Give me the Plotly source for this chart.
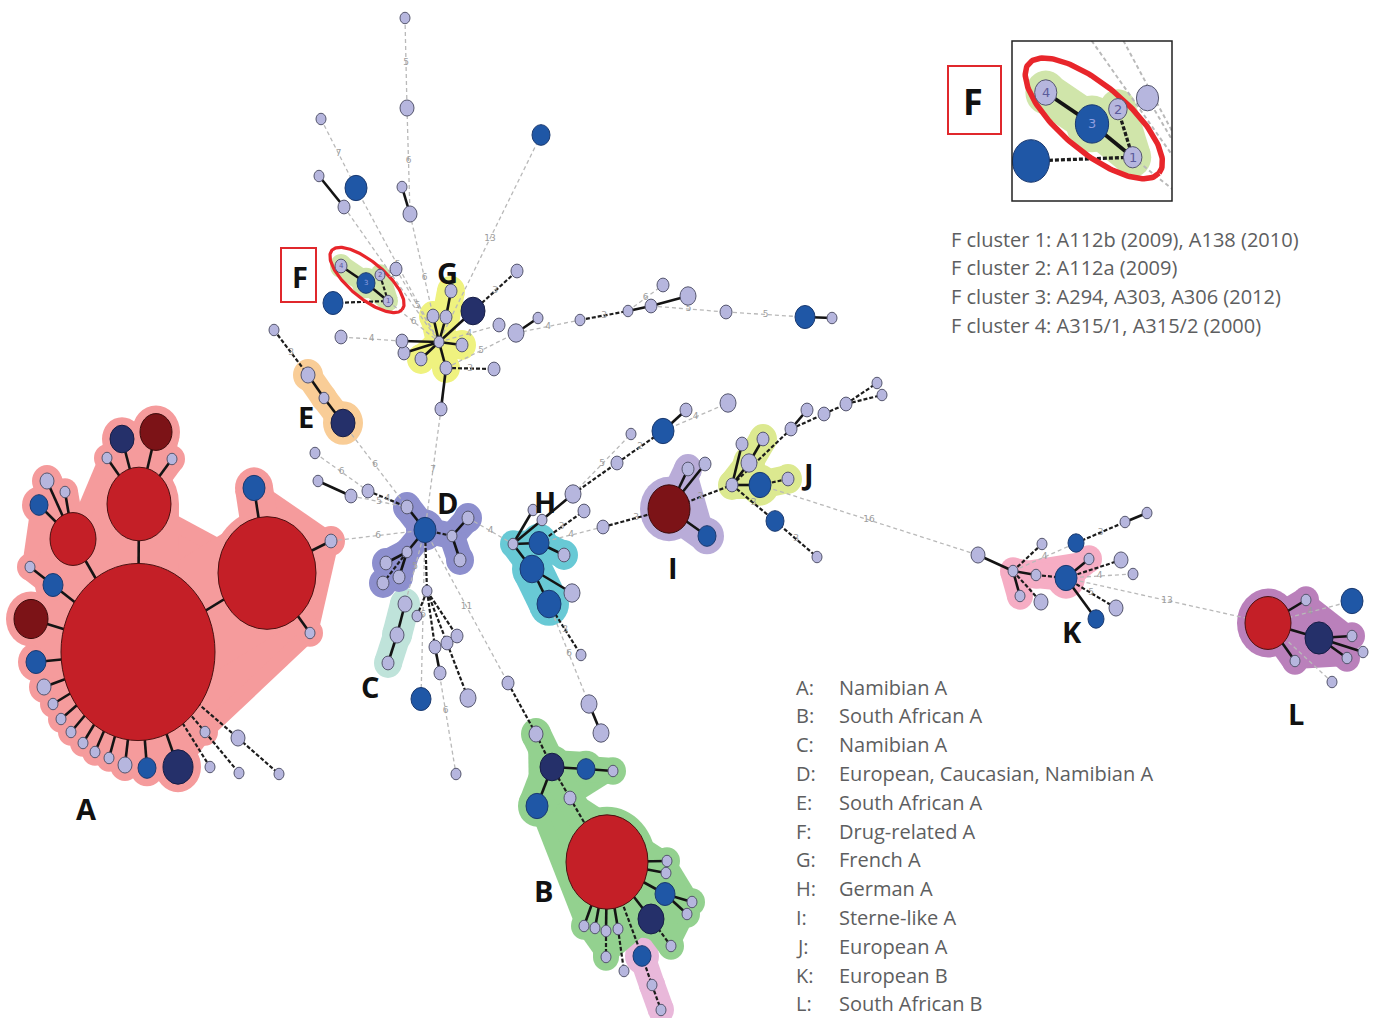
import math
import plotly.graph_objects as go

W, H = 1377, 1018
Y_STRETCH = 1.15     # nodes are drawn as slightly tall ellipses
PAD = 8              # default halo padding around cluster members
ZOOM = 1.85          # magnification of the F inset

# ---------------- nodes: (id, x, y, radius, kind) ----------------
nodes_A = [
    ("A0", 138, 652, 77, "R"), ("A1", 267, 573, 49, "R"), ("A2", 139, 504, 32, "R"),
    ("A3", 73, 539, 23, "R"), ("A4", 156, 432, 16, "DR"), ("A5", 122, 439, 12, "N"),
    ("A6", 107, 458, 5, "L"), ("A7", 172, 459, 5, "L"), ("A8", 254, 488, 11, "B"),
    ("A9", 331, 541, 6, "L"), ("A10", 310, 633, 5, "L"), ("A11", 47, 481, 7, "L"),
    ("A12", 65, 492, 5, "L"), ("A13", 39, 505, 9, "B"), ("A14", 30, 567, 5, "L"),
    ("A15", 53, 585, 10, "B"), ("A16", 31, 619, 17, "DR"), ("A17", 36, 662, 10, "B"),
    ("A18", 44, 687, 7, "L"), ("A19", 53, 704, 5, "L"), ("A20", 61, 719, 5, "L"),
    ("A21", 71, 732, 5, "L"), ("A22", 83, 743, 5, "L"), ("A23", 95, 752, 5, "L"),
    ("A24", 109, 758, 5, "L"), ("A25", 125, 765, 7, "L"), ("A26", 147, 768, 9, "B"),
    ("A27", 178, 767, 15, "N"), ("A28", 205, 732, 5, "L"),
    ("A29", 210, 767, 5, "L"), ("A30", 238, 738, 7, "L"), ("A31", 239, 773, 5, "L"),
    ("A32", 279, 774, 5, "L"),
]
nodes_B = [
    ("B0", 607, 862, 41, "R"), ("Bt", 536, 734, 7, "L"), ("B1", 552, 767, 12, "N"),
    ("B2", 586, 769, 9, "B"), ("B3", 613, 771, 5, "L"), ("B4", 537, 806, 11, "B"),
    ("B5", 570, 798, 6, "L"), ("B6", 667, 861, 5, "L"), ("B7", 666, 873, 5, "L"),
    ("B8", 665, 894, 10, "B"), ("B9", 692, 902, 5, "L"), ("B10", 687, 914, 5, "L"),
    ("B11", 651, 919, 13, "N"), ("B12", 671, 946, 5, "L"), ("B13", 584, 926, 5, "L"),
    ("B14", 595, 928, 5, "L"), ("B15", 606, 931, 5, "L"), ("B16", 618, 929, 5, "L"),
    ("B17", 606, 957, 5, "L"), ("B18", 624, 971, 5, "L"), ("X1", 508, 683, 6, "L"),
    ("P0", 642, 956, 9, "B"), ("P1", 652, 985, 5, "L"), ("P2", 661, 1010, 5, "L"),
]
nodes_CDE = [
    ("C0", 405, 604, 7, "L"), ("C1", 397, 635, 7, "L"), ("C2", 388, 663, 6, "L"),
    ("D0", 425, 530, 11, "B"), ("D1", 407, 507, 6, "L"), ("D2", 468, 518, 6, "L"),
    ("D3", 452, 536, 5, "L"), ("D4", 460, 560, 6, "L"), ("D5", 407, 552, 5, "L"),
    ("D6", 386, 563, 6, "L"), ("D7", 399, 577, 6, "L"), ("D8", 383, 583, 6, "L"),
    ("N1", 315, 453, 5, "L"), ("N2", 318, 481, 5, "L"), ("N3", 351, 496, 6, "L"),
    ("N4", 368, 491, 6, "L"),
    ("Y0", 427, 591, 5, "L"), ("Y1", 417, 616, 5, "L"), ("Y2", 435, 647, 6, "L"),
    ("Y3", 440, 673, 6, "L"), ("Y4", 447, 643, 6, "L"), ("Y5", 468, 698, 8, "L"),
    ("Y6", 457, 636, 6, "L"), ("Y7", 421, 699, 10, "B"), ("Y8", 456, 774, 5, "L"),
    ("Ee", 274, 330, 5, "L"), ("E0", 308, 375, 7, "L"), ("E1", 324, 398, 5, "L"),
    ("E2", 343, 423, 12, "N"),
]
nodes_FG = [
    ("F1", 388, 301, 5, "L"), ("F2", 380, 275, 5, "L"), ("F3", 366, 283, 9, "B"),
    ("F4", 341, 266, 6, "L"), ("Fb", 333, 303, 10, "B"),
    ("G0", 439, 342, 5, "L"), ("G1", 433, 316, 6, "L"), ("G2", 446, 317, 6, "L"),
    ("G3", 451, 291, 6, "L"), ("G4", 462, 345, 6, "L"), ("G5", 446, 368, 6, "L"),
    ("G6", 421, 359, 6, "L"), ("G7", 404, 353, 6, "L"), ("G8", 402, 341, 6, "L"),
    ("G9", 341, 337, 6, "L"), ("G10", 494, 369, 6, "L"), ("G11", 441, 409, 6, "L"),
    ("G12", 473, 311, 12, "N"), ("G13", 517, 271, 6, "L"), ("G14", 499, 325, 6, "L"),
    ("G15", 516, 333, 8, "L"), ("G16", 538, 318, 5, "L"),
    ("R1", 580, 320, 5, "L"), ("R2", 628, 311, 5, "L"), ("R3", 651, 306, 6, "L"),
    ("R4", 688, 296, 8, "L"), ("R5", 663, 285, 6, "L"), ("R6", 726, 312, 6, "L"),
    ("R7", 805, 317, 10, "B"), ("R8", 832, 318, 5, "L"),
    ("T0", 405, 18, 5, "L"), ("T1", 407, 108, 7, "L"), ("T2", 410, 214, 7, "L"),
    ("T3", 402, 187, 5, "L"), ("T4", 321, 119, 5, "L"), ("T5", 356, 188, 11, "B"),
    ("T6", 319, 176, 5, "L"), ("T7", 344, 207, 6, "L"), ("T8", 541, 135, 9, "B"),
    ("T9", 396, 269, 6, "L"),
]
nodes_HIJ = [
    ("H0", 513, 544, 5, "L"), ("H1", 539, 543, 10, "B"), ("H2", 564, 555, 6, "L"),
    ("H3", 532, 569, 12, "B"), ("H4", 572, 593, 8, "L"), ("H5", 549, 604, 12, "B"),
    ("Z1", 581, 655, 5, "L"), ("Z2", 589, 704, 8, "L"), ("Z3", 601, 733, 8, "L"),
    ("U1", 533, 510, 5, "L"), ("U2", 542, 520, 5, "L"), ("U3", 573, 494, 8, "L"),
    ("U4", 584, 511, 6, "L"), ("U5", 617, 463, 6, "L"), ("U6", 631, 434, 5, "L"),
    ("U7", 663, 431, 11, "B"), ("U8", 686, 410, 6, "L"), ("U9", 728, 403, 8, "L"),
    ("U10", 603, 527, 6, "L"),
    ("I0", 669, 509, 21, "DR"), ("I1", 707, 536, 9, "B"), ("I2", 688, 469, 6, "L"),
    ("I3", 705, 464, 6, "L"),
    ("J0", 732, 485, 6, "L"), ("J1", 760, 485, 11, "B"), ("J2", 788, 479, 6, "L"),
    ("J3", 749, 463, 8, "L"), ("J4", 763, 439, 6, "L"), ("J5", 742, 444, 6, "L"),
    ("V1", 775, 521, 9, "B"), ("V2", 817, 557, 5, "L"),
    ("W1", 791, 429, 6, "L"), ("W2", 807, 410, 6, "L"), ("W3", 824, 414, 6, "L"),
    ("W4", 846, 404, 6, "L"), ("W5", 877, 383, 5, "L"), ("W6", 882, 395, 5, "L"),
]
nodes_KL = [
    ("Kl", 978, 555, 7, "L"), ("K0", 1013, 571, 5, "L"), ("K1", 1036, 575, 5, "L"),
    ("K2", 1066, 578, 11, "B"), ("K3", 1089, 559, 5, "L"), ("K4", 1020, 596, 5, "L"),
    ("K5", 1041, 602, 7, "L"), ("K6", 1042, 544, 5, "L"), ("K7", 1076, 543, 8, "B"),
    ("K8", 1125, 522, 5, "L"), ("K9", 1147, 513, 5, "L"), ("K10", 1121, 560, 7, "L"),
    ("K11", 1133, 574, 5, "L"), ("K12", 1116, 608, 7, "L"), ("K13", 1096, 619, 8, "B"),
    ("L0", 1268, 623, 23, "R"), ("L1", 1319, 638, 14, "N"), ("L2", 1306, 600, 5, "L"),
    ("L3", 1352, 636, 5, "L"), ("L4", 1363, 652, 5, "L"), ("L5", 1347, 658, 5, "L"),
    ("L6", 1295, 661, 5, "L"), ("L7", 1332, 682, 5, "L"), ("L8", 1352, 601, 11, "B"),
]

# ---------------- edges: (from, to, style, distance label) ----------------
edges_A = [
    ("A0", "A1", "s", ""), ("A0", "A2", "s", ""), ("A0", "A3", "s", ""),
    ("A2", "A4", "s", ""), ("A2", "A5", "s", ""), ("A2", "A6", "s", ""), ("A2", "A7", "s", ""),
    ("A1", "A8", "s", ""), ("A1", "A9", "s", ""), ("A1", "A10", "s", ""),
    ("A3", "A11", "s", ""), ("A3", "A12", "s", ""), ("A3", "A13", "s", ""),
    ("A0", "A15", "s", ""), ("A15", "A14", "s", ""), ("A0", "A16", "s", ""),
    ("A0", "A17", "s", ""), ("A0", "A18", "s", ""), ("A0", "A19", "s", ""),
    ("A0", "A20", "s", ""), ("A0", "A21", "s", ""), ("A0", "A22", "s", ""),
    ("A0", "A23", "s", ""), ("A0", "A24", "s", ""), ("A0", "A25", "s", ""),
    ("A0", "A26", "s", ""), ("A0", "A27", "s", ""), ("A0", "A28", "d", ""),
    ("A0", "A29", "d", ""), ("A28", "A31", "d", ""), ("A0", "A30", "d", ""),
    ("A30", "A32", "d", ""), ("A9", "D0", "g", "6"),
]
edges_B = [
    ("Bt", "B1", "d", ""), ("B1", "B2", "s", ""), ("B2", "B3", "s", ""), ("B1", "B4", "s", ""),
    ("B1", "B5", "d", ""), ("B5", "B0", "d", ""), ("B0", "B6", "s", ""), ("B0", "B7", "s", ""),
    ("B0", "B8", "s", ""), ("B8", "B9", "s", ""), ("B8", "B10", "s", ""), ("B0", "B11", "s", ""),
    ("B11", "B12", "d", ""), ("B0", "B13", "s", ""), ("B0", "B14", "s", ""), ("B0", "B15", "s", ""),
    ("B0", "B16", "s", ""), ("B15", "B17", "d", ""), ("B16", "B18", "d", ""),
    ("B0", "P0", "d", ""), ("P0", "P1", "d", ""), ("P1", "P2", "d", ""),
    ("X1", "Bt", "d", ""), ("D0", "X1", "g", "11"),
]
edges_CDE = [
    ("C0", "C1", "s", ""), ("C1", "C2", "s", ""), ("D0", "C0", "g", "5"),
    ("D0", "D1", "s", ""), ("D0", "D3", "d", ""), ("D3", "D2", "s", ""), ("D3", "D4", "s", ""),
    ("D0", "D5", "s", ""), ("D5", "D6", "s", ""), ("D5", "D7", "s", ""), ("D5", "D8", "d", ""),
    ("N1", "N4", "g", "6"), ("N4", "D1", "d", "4"), ("N2", "N3", "s", ""), ("N3", "D1", "g", "5"),
    ("D0", "Y0", "d", ""), ("Y0", "Y1", "d", ""), ("Y0", "Y2", "d", ""), ("Y2", "Y3", "s", ""),
    ("Y0", "Y4", "d", ""), ("Y4", "Y5", "d", ""), ("Y0", "Y6", "d", ""),
    ("D0", "Y7", "g", "6"), ("Y2", "Y8", "g", "6"),
    ("Ee", "E0", "d", "3"), ("E0", "E1", "s", ""), ("E1", "E2", "s", ""), ("E2", "D1", "g", "6"),
    ("G11", "D0", "g", "7"), ("D2", "H0", "g", "4"),
]
edges_FG = [
    ("F4", "F3", "s", ""), ("F3", "F1", "s", ""), ("F2", "F1", "d", ""), ("Fb", "F1", "d", ""),
    ("F1", "G0", "g", "6"),
    ("G0", "G1", "s", ""), ("G0", "G2", "s", ""), ("G2", "G3", "s", ""), ("G0", "G4", "s", ""),
    ("G0", "G5", "s", ""), ("G0", "G6", "s", ""), ("G0", "G7", "s", ""), ("G0", "G8", "s", ""),
    ("G8", "G9", "g", "4"), ("G5", "G10", "d", "3"), ("G5", "G11", "s", ""),
    ("G0", "G12", "s", ""), ("G12", "G13", "d", "3"), ("G0", "G14", "g", "4"),
    ("G5", "G15", "g", "5"), ("G15", "G16", "s", ""),
    ("G15", "R1", "g", "4"), ("R1", "R2", "d", "3"), ("R2", "R3", "s", ""), ("R3", "R4", "s", ""),
    ("R2", "R5", "g", "6"), ("R3", "R6", "g", "5"), ("R6", "R7", "g", "5"), ("R7", "R8", "s", ""),
    ("T0", "T1", "g", "5"), ("T1", "T2", "g", "6"), ("T3", "T2", "s", ""), ("T2", "G0", "g", "6"),
    ("T4", "T5", "g", "7"), ("T5", "G0", "g", "5"), ("T6", "T7", "s", ""), ("T7", "G0", "g", "5"),
    ("T8", "G0", "g", "13"), ("T9", "G0", "g", "5"),
]
edges_HIJ = [
    ("H0", "H1", "s", ""), ("H1", "H2", "s", ""), ("H0", "H3", "s", ""), ("H3", "H5", "s", ""),
    ("H3", "H4", "s", ""), ("H5", "Z1", "d", "3"), ("H5", "Z2", "g", "6"), ("Z2", "Z3", "s", ""),
    ("H0", "U1", "s", ""), ("H0", "U2", "s", ""), ("U2", "U3", "s", ""), ("U3", "U5", "d", ""),
    ("U3", "U6", "g", "5"), ("U5", "U7", "d", "2"), ("U7", "U8", "s", ""), ("U7", "U9", "g", "4"),
    ("H1", "U4", "d", "3"), ("H1", "U10", "g", "4"), ("U10", "I0", "d", "3"),
    ("I0", "I1", "s", ""), ("I0", "I2", "s", ""), ("I0", "I3", "s", ""), ("I0", "J0", "d", "2"),
    ("J0", "J1", "s", ""), ("J1", "J2", "d", ""), ("J0", "J3", "s", ""), ("J3", "J4", "s", ""),
    ("J0", "J5", "s", ""), ("J0", "V1", "d", "3"), ("V1", "V2", "d", "3"),
    ("J0", "W1", "d", ""), ("W1", "W2", "s", ""), ("W1", "W3", "d", ""), ("W3", "W4", "d", ""),
    ("W4", "W5", "d", ""), ("W4", "W6", "d", ""), ("J1", "Kl", "g", "16"),
]
edges_KL = [
    ("Kl", "K0", "s", ""), ("K0", "K1", "s", ""), ("K1", "K2", "d", ""), ("K2", "K3", "s", ""),
    ("K0", "K4", "s", ""), ("K0", "K5", "d", ""), ("K0", "K6", "d", ""), ("K0", "K7", "g", "4"),
    ("K7", "K8", "d", "3"), ("K8", "K9", "s", ""), ("K2", "K10", "d", ""), ("K2", "K11", "g", "4"),
    ("K2", "K12", "d", "5"), ("K2", "K13", "s", ""), ("K2", "L0", "g", "13"),
    ("L0", "L1", "s", ""), ("L0", "L2", "s", ""), ("L1", "L3", "s", ""), ("L1", "L4", "s", ""),
    ("L1", "L5", "s", ""), ("L0", "L6", "s", ""), ("L0", "L7", "g", ""), ("L0", "L8", "g", "4"),
]

# ---------------- cluster halos ----------------
halo_members = {
    "A": ["A%d" % i for i in range(29)],
    "B": ["Bt"] + ["B%d" % i for i in range(18)],
    "P": ["P0", "P1", "P2"],
    "C": ["C0", "C1", "C2"],
    "D": ["D0", "D1", "D2", "D3", "D4", "D5", "D6", "D7", "D8"],
    "E": ["E0", "E1", "E2"],
    "F": ["F1", "F2", "F3", "F4"],
    "G": ["G0", "G1", "G2", "G3", "G4", "G5", "G6"],
    "H": ["H0", "H1", "H2", "H3", "H5"],
    "I": ["I0", "I1", "I2"],
    "J": ["J0", "J1", "J2", "J3", "J4"],
    "K": ["K0", "K1", "K2", "K3", "K4"],
    "L": ["L0", "L1", "L2", "L3", "L5", "L6"],
}
halo_colors = {
    "A": "#f59b9c", "B": "#93d18f", "P": "#e9b8da", "C": "#bfe3da", "D": "#8d8fce",
    "E": "#f9cd97", "F": "#d0e5aa", "G": "#eff27f", "H": "#68c9d5", "I": "#b9acd8",
    "J": "#dce990", "K": "#f6adc4", "L": "#ba80bb",
}
halo_pad = {"F": 5}
halo_outlines = {
    "A": ["A14", "A13", "A11", "A12", "A3", "A6", "A5", "A4", "A7", "A2", "A1", "A8", "A9",
          "A10", "A28", "A27", "A26", "A25", "A24", "A23", "A22", "A21", "A20", "A19",
          "A18", "A17", "A16", "A15"],
    "B": ["Bt", "B1", "B2", "B3", "B5", "B6", "B9", "B10", "B12", "B11", "B17", "B13", "B4"],
    "I": ["I2", "I1", "I0"],
    "K": ["K0", "K3", "K2"],
    "L": ["L0", "L2", "L3", "L5", "L6"],
}

cluster_labels = [("A", 86, 808), ("B", 543, 890), ("C", 370, 686), ("D", 447, 502),
                  ("E", 306, 416), ("G", 447, 272), ("H", 545, 501), ("I", 673, 567),
                  ("J", 807, 473), ("K", 1072, 631), ("L", 1296, 713)]
f_node_numbers = [("F1", "1"), ("F2", "2"), ("F3", "3"), ("F4", "4")]

legend_keys = ["A:", "B:", "C:", "D:", "E:", "F:", "G:", "H:", "I:", "J:", "K:", "L:"]
legend_names = ["Namibian A", "South African A", "Namibian A", "European, Caucasian, Namibian A",
                "South African A", "Drug-related A", "French A", "German A", "Sterne-like A",
                "European A", "European B", "South African B"]
f_cluster_lines = ["F cluster 1: A112b (2009), A138 (2010)",
                   "F cluster 2: A112a (2009)",
                   "F cluster 3: A294, A303, A306 (2012)",
                   "F cluster 4: A315/1, A315/2 (2000)"]

KIND_FILL = {"L": "#b6b6de", "B": "#1f57a6", "N": "#25306a", "R": "#c41f27", "DR": "#7c1317"}
KIND_LINE = {"L": "#55566e", "B": "#1b3a70", "N": "#161d45", "R": "#4a1010", "DR": "#3a0a0a"}
EDGE_STYLE = {
    "g": dict(color="#b9b9b9", width=1.3, dash="4px,3px"),
    "d": dict(color="#1c1c1c", width=2.2, dash="4px,2px"),
    "s": dict(color="#141414", width=2.6, dash="solid"),
}

# ---------------- assemble ----------------
node = {}
for lst in (nodes_A, nodes_B, nodes_CDE, nodes_FG, nodes_HIJ, nodes_KL):
    for nid, x, y, r, kind in lst:
        node[nid] = (x, y, r, kind)
EDGES = edges_A + edges_B + edges_CDE + edges_FG + edges_HIJ + edges_KL
member_of = {nid: c for c, ids in halo_members.items() for nid in ids}

# inset window (F region magnified)
F_CX, F_CY = 366.0, 281.4
half = 160 / ZOOM / 2
INSET_X = [F_CX - half, F_CX + half]
INSET_Y = [F_CY + half, F_CY - half]
BOX = (1012, 41, 1172, 201)

fig = go.Figure()
shapes = []
annotations = []


def ellipse_xy(cx, cy, a, b, deg, n=160):
    t = math.radians(deg)
    xs, ys = [], []
    for i in range(n + 1):
        u = 2 * math.pi * i / n
        ex, ey = a * math.cos(u), b * math.sin(u)
        xs.append(cx + ex * math.cos(t) - ey * math.sin(t))
        ys.append(cy + ex * math.sin(t) + ey * math.cos(t))
    return xs, ys


def draw_network(xa, ya, s, window=None):
    def visible(x, y, r):
        if window is None:
            return True
        (x0, x1), (y1, y0) = window
        m = r * Y_STRETCH + PAD + 2
        return x0 - m <= x <= x1 + m and y0 - m <= y <= y1 + m

    # halo outline fills
    for c, ids in halo_outlines.items():
        pad = halo_pad.get(c, PAD)
        xs = [node[i][0] for i in ids] + [node[ids[0]][0]]
        ys = [node[i][1] for i in ids] + [node[ids[0]][1]]
        fig.add_trace(go.Scatter(x=xs, y=ys, mode="lines", fill="toself",
                                 fillcolor=halo_colors[c], line=dict(width=0, color=halo_colors[c]),
                                 xaxis=xa, yaxis=ya, hoverinfo="skip", showlegend=False))
        sx, sy = [], []
        for k in range(len(ids)):
            a, b = ids[k], ids[(k + 1) % len(ids)]
            sx += [node[a][0], node[b][0], None]
            sy += [node[a][1], node[b][1], None]
        fig.add_trace(go.Scatter(x=sx, y=sy, mode="lines",
                                 line=dict(width=2 * pad * s, color=halo_colors[c]),
                                 xaxis=xa, yaxis=ya, hoverinfo="skip", showlegend=False))

    # halo bands along intra-cluster edges
    groups = {}
    for a, b, st, lab in EDGES:
        ca, cb = member_of.get(a), member_of.get(b)
        if ca is not None and ca == cb:
            pad = halo_pad.get(ca, PAD)
            w = round(2 * (min(node[a][2], node[b][2]) + pad) * s, 1)
            gx, gy = groups.setdefault((ca, w), ([], []))
            gx += [node[a][0], node[b][0], None]
            gy += [node[a][1], node[b][1], None]
    for (c, w), (gx, gy) in groups.items():
        fig.add_trace(go.Scatter(x=gx, y=gy, mode="lines", line=dict(width=w, color=halo_colors[c]),
                                 xaxis=xa, yaxis=ya, hoverinfo="skip", showlegend=False))

    # edges
    for st in ("g", "d", "s"):
        ex, ey = [], []
        for a, b, style, lab in EDGES:
            if style == st:
                ex += [node[a][0], node[b][0], None]
                ey += [node[a][1], node[b][1], None]
        sty = dict(EDGE_STYLE[st])
        sty["width"] = sty["width"] * (1 if s == 1 else 1.5)
        fig.add_trace(go.Scatter(x=ex, y=ey, mode="lines", line=sty,
                                 xaxis=xa, yaxis=ya, hoverinfo="skip", showlegend=False))

    # nodes (and their halo discs)
    xr, yr = xa.replace("axis", ""), ya.replace("axis", "")
    for nid, (x, y, r, kind) in node.items():
        if not visible(x, y, r):
            continue
        ry = r * Y_STRETCH
        c = member_of.get(nid)
        if c is not None:
            pad = halo_pad.get(c, PAD)
            shapes.append(dict(type="circle", xref=xr, yref=yr, layer="below",
                               x0=x - r - pad, x1=x + r + pad, y0=y - ry - pad, y1=y + ry + pad,
                               fillcolor=halo_colors[c], line=dict(width=0)))
        shapes.append(dict(type="circle", xref=xr, yref=yr, layer="above",
                           x0=x - r, x1=x + r, y0=y - ry, y1=y + ry,
                           fillcolor=KIND_FILL[kind], line=dict(color=KIND_LINE[kind], width=1)))

    # F-cluster ring
    ex, ey = ellipse_xy(367, 280, 46, 18, 40)
    fig.add_trace(go.Scatter(x=ex, y=ey, mode="lines",
                             line=dict(color="#e8262b", width=3.2 if s == 1 else 5.5),
                             xaxis=xa, yaxis=ya, hoverinfo="skip", showlegend=False))

    # numbers on the F nodes
    for nid, txt in f_node_numbers:
        x, y, r, kind = node[nid]
        annotations.append(dict(x=x, y=y, xref=xr, yref=yr, text=txt, showarrow=False,
                                font=dict(size=7 * s, color="#5b5b9a" if kind == "L" else "#8f9fe0",
                                          family="DejaVu Sans")))


draw_network("x", "y", 1)
draw_network("x2", "y2", ZOOM, window=(INSET_X, INSET_Y))

# distance labels on long links
lx, ly, lt = [], [], []
for a, b, st, lab in EDGES:
    if lab:
        lx.append((node[a][0] + node[b][0]) / 2)
        ly.append((node[a][1] + node[b][1]) / 2)
        lt.append(lab)
fig.add_trace(go.Scatter(x=lx, y=ly, text=lt, mode="text",
                         textfont=dict(size=9, color="#9c9c9c", family="DejaVu Sans"),
                         hoverinfo="skip", showlegend=False))

# inset frame and the "F" boxes
shapes.append(dict(type="rect", xref="x", yref="y", x0=BOX[0], y0=BOX[1], x1=BOX[2], y1=BOX[3],
                   line=dict(color="#222222", width=1.5), layer="above"))
shapes.append(dict(type="rect", xref="x", yref="y", x0=281, y0=248, x1=316, y1=302,
                   line=dict(color="#e0282c", width=2), layer="above"))
shapes.append(dict(type="rect", xref="x", yref="y", x0=948, y0=66, x1=1001, y1=134,
                   line=dict(color="#e0282c", width=2), layer="above"))

BOLD = "Open Sans"
annotations.append(dict(x=300, y=276, xref="x", yref="y", text="<b>F</b>", showarrow=False,
                        font=dict(size=29, color="#111111", family=BOLD)))
annotations.append(dict(x=973, y=101, xref="x", yref="y", text="<b>F</b>", showarrow=False,
                        font=dict(size=36, color="#111111", family=BOLD)))
for t, x, y in cluster_labels:
    annotations.append(dict(x=x, y=y, xref="x", yref="y", text="<b>%s</b>" % t, showarrow=False,
                            font=dict(size=29, color="#111111", family=BOLD)))

TXT = dict(size=20, color="#5d5e60", family="Open Sans")
for i, line in enumerate(f_cluster_lines):
    annotations.append(dict(x=949, y=239 + i * 28.9, xref="x", yref="y", text=line,
                            showarrow=False, xanchor="left", font=TXT))
for i, (k, name) in enumerate(zip(legend_keys, legend_names)):
    y = 687 + i * 28.8
    annotations.append(dict(x=794, y=y, xref="x", yref="y", text=k, showarrow=False,
                            xanchor="left", font=TXT))
    annotations.append(dict(x=837, y=y, xref="x", yref="y", text=name, showarrow=False,
                            xanchor="left", font=TXT))

fig.update_layout(
    width=W, height=H, margin=dict(l=0, r=0, t=0, b=0),
    paper_bgcolor="white", plot_bgcolor="white", showlegend=False,
    xaxis=dict(range=[0, W], visible=False, domain=[0, 1]),
    yaxis=dict(range=[H, 0], visible=False, domain=[0, 1]),
    xaxis2=dict(range=INSET_X, visible=False, anchor="y2",
                domain=[BOX[0] / W, BOX[2] / W]),
    yaxis2=dict(range=INSET_Y, visible=False, anchor="x2",
                domain=[1 - BOX[3] / H, 1 - BOX[1] / H]),
    shapes=shapes, annotations=annotations,
)
fig.write_html("out.html")
